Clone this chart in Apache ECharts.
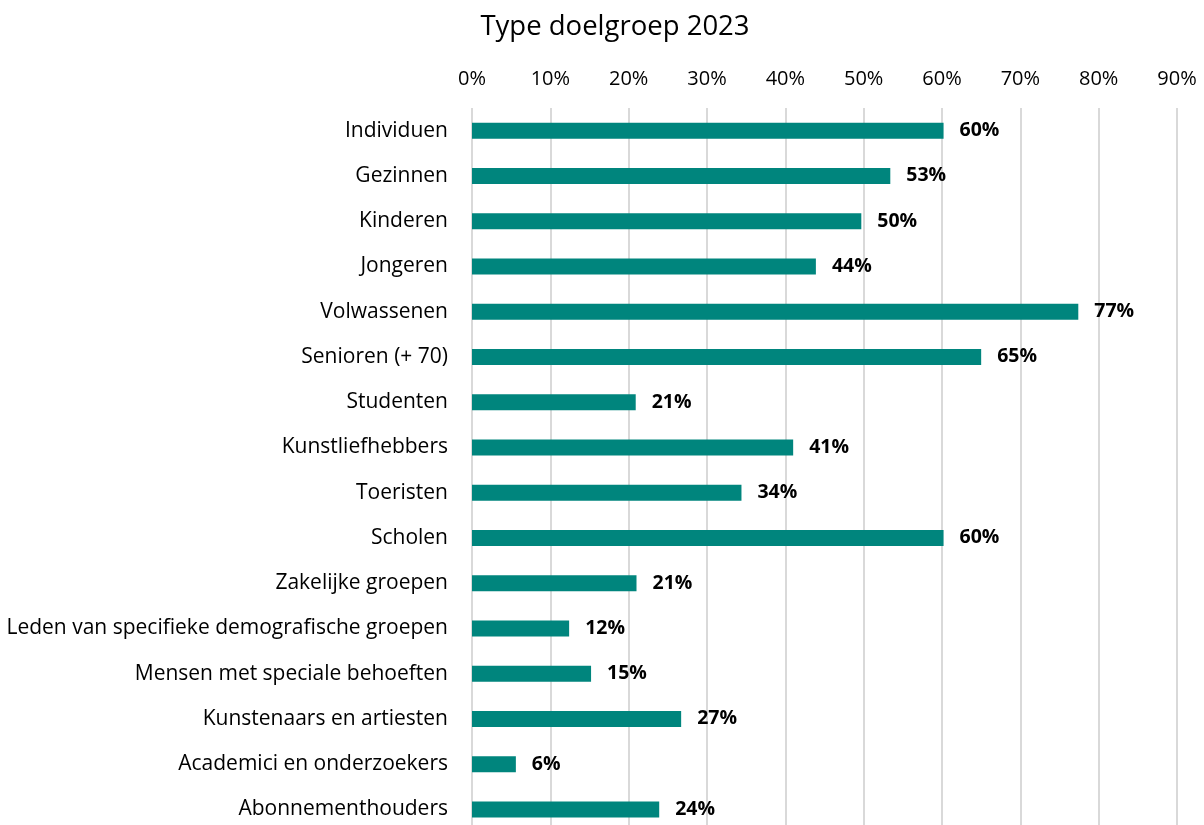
<!DOCTYPE html>
<html>
<head>
<meta charset="utf-8">
<script src="https://cdn.jsdelivr.net/npm/echarts@6/dist/echarts.min.js"></script>
<style>html,body{margin:0;padding:0;background:#fff}#c{width:1204px;height:825px}</style>
</head>
<body>
<div id="c"></div>
<script>
const title = 'Type doelgroep 2023';
const categories = ['Individuen','Gezinnen','Kinderen','Jongeren','Volwassenen','Senioren (+ 70)','Studenten','Kunstliefhebbers','Toeristen','Scholen','Zakelijke groepen','Leden van specifieke demografische groepen','Mensen met speciale behoeften','Kunstenaars en artiesten','Academici en onderzoekers','Abonnementhouders'];
const values = [60.2, 53.4, 49.7, 43.9, 77.4, 65.0, 20.9, 41.0, 34.4, 60.2, 21.0, 12.4, 15.2, 26.7, 5.6, 23.9];
const tickValues = [0,10,20,30,40,50,60,70,80,90];

const font = '"Open Sans", sans-serif';
const chart = echarts.init(document.getElementById('c'));
chart.setOption({
  animation: false,
  title: { text: title, left: 610, textAlign: 'center', top: 8, textStyle: { fontFamily: font, fontSize: 27.5, fontWeight: 'normal', color: '#000' } },
  grid: { left: 472, right: 27, top: 108, height: 724, containLabel: false, outerBoundsMode: 'none' },
  xAxis: {
    type: 'value', position: 'top', min: tickValues[0], max: tickValues[tickValues.length - 1], interval: 10,
    axisLine: { show: false }, axisTick: { show: false },
    axisLabel: { formatter: v => v + '%', fontFamily: font, fontSize: 20, color: '#000', margin: 19 },
    splitLine: { show: true, lineStyle: { color: '#d9d9d9', width: 2 } }
  },
  yAxis: {
    type: 'category', data: categories, inverse: true,
    axisLine: { show: false }, axisTick: { show: false },
    axisLabel: { fontFamily: font, fontSize: 21, color: '#000', margin: 24, padding: [4, 0, 0, 0] }
  },
  series: [{
    type: 'bar', data: values, barWidth: 16,
    itemStyle: { color: '#00857D' },
    label: { show: true, position: 'right', distance: 16, formatter: p => Math.round(p.value) + '%', fontFamily: font, fontSize: 19.5, fontWeight: 'bold', color: '#000', padding: [4, 0, 0, 0] }
  }]
});
</script>
</body>
</html>
